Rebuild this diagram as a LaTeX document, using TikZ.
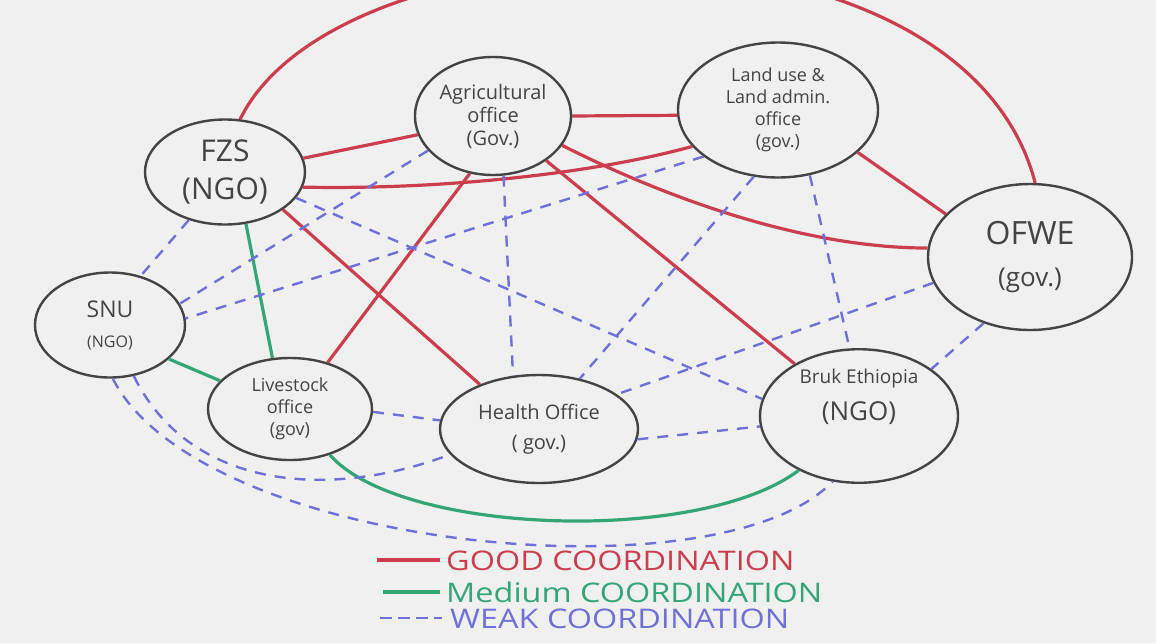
\documentclass[tikz,border=0pt]{standalone}
\usepackage{fontspec}
\setmainfont{Open Sans}
\newfontfamily\legendfont[FakeStretch=1.2]{Open Sans}
\usetikzlibrary{shapes.geometric}
\definecolor{paper}{RGB}{240,240,240}
\definecolor{ink}{RGB}{68,68,68}
\definecolor{goodred}{RGB}{204,62,78}
\definecolor{midgreen}{RGB}{52,166,118}
\definecolor{weakblue}{RGB}{112,112,218}
\newcommand{\fs}[2]{\fontsize{#1}{#2}\selectfont}

\begin{document}
\begin{tikzpicture}[x=1pt,y=-1pt,
  org/.style={ellipse,draw=ink,line width=2.4pt,inner sep=0pt,align=center,text=ink},
  good/.style={goodred,line width=3.2pt},
  medium/.style={midgreen,line width=3.2pt},
  weak/.style={weakblue,line width=2.4pt,dash pattern=on 11pt off 9pt},
  legend/.style={anchor=west,inner sep=0pt,text height=20pt,text depth=0pt,
    font=\legendfont\fs{27}{28}}]

\useasboundingbox[fill=paper] (0,0) rectangle (1156,643);
\clip (0,0) rectangle (1156,643);

% organisations
\node[org,minimum width=160pt,minimum height=105pt,font=\fs{30}{38}] (fzs) at (225,172) {FZS\\(NGO)};
\node[org,minimum width=156pt,minimum height=118pt,font=\fs{20}{23}] (agri) at (493,116) {Agricultural\\office\\(Gov.)};
\node[org,minimum width=200pt,minimum height=135pt,font=\fs{18}{22}] (land) at (778,110) {Land use \&\\Land admin.\\office\\(gov.)};
\node[org,minimum width=204pt,minimum height=146pt,font=\fs{26}{42}] (ofwe) at (1030,257) {{\fs{32}{42}OFWE}\\(gov.)};
\node[org,minimum width=150pt,minimum height=105pt,font=\fs{16}{30}] (snu) at (110,325) {{\fs{23}{30}SNU}\\(NGO)};
\node[org,minimum width=164pt,minimum height=102pt,font=\fs{18}{22}] (live) at (290,409) {Livestock\\office\\(gov)};
\node[org,minimum width=198pt,minimum height=108pt,font=\fs{20}{30}] (health) at (539,429) {Health Office\\( gov.)};
\node[org,minimum width=198pt,minimum height=122pt,font=\fs{26}{37}] (bruk) at (859,416) {{\fs{19}{37}Bruk Ethiopia}\\(NGO)\\[6pt]};

% good coordination
\draw[good] (fzs.74) .. controls (340,-85) and (960,-105) .. (ofwe.86);
\draw[good] (fzs.10) -- (agri.194);
\draw[good] (fzs.-11) .. controls (450,190) and (600,172) .. (land.-157);
\draw[good] (fzs.-33) -- (health.143);
\draw[good] (agri.0) -- (land.-177);
\draw[good] (agri.-23) .. controls (660,195) and (800,248) .. (ofwe.175);
\draw[good] (agri.-40) -- (bruk.141);
\draw[good] (agri.-112) -- (live.51);
\draw[good] (land.-28) -- (ofwe.153);

% medium coordination
\draw[medium] (fzs.-68) -- (live.109);
\draw[medium] (snu.-30) -- (live.158);
\draw[medium] (live.-49) .. controls (400,535) and (700,545) .. (bruk.-138);

% weak coordination
\draw[weak] (fzs.-127) -- (snu.58);
\draw[weak] (fzs.-20) -- (bruk.170);
\draw[weak] (agri.-152) -- (snu.17);
\draw[weak] (agri.-80) -- (health.116);
\draw[weak] (land.-148) -- (snu.5);
\draw[weak] (land.-110) -- (health.51);
\draw[weak] (land.-64) -- (bruk.98);
\draw[weak] (ofwe.-165) -- (health.24);
\draw[weak] (ofwe.-125) -- (bruk.33);
\draw[weak] (live.-2) -- (health.175);
\draw[weak] (health.-6) -- (bruk.-174);
\draw[weak] (snu.-65) .. controls (190,490) and (330,500) .. (health.-164);
\draw[weak] (snu.-87) .. controls (200,550) and (720,600) .. (bruk.-112);

% legend
\coordinate (kgood) at (377,560);
\coordinate (kmed) at (383,592);
\coordinate (kweak) at (380,618);
\node[legend,text=goodred] (tgood) at (446,560) {GOOD COORDINATION};
\node[legend,text=midgreen] (tmed) at (446,592) {Medium COORDINATION};
\node[legend,text=weakblue] (tweak) at (450,618) {WEAK COORDINATION};
\draw[good] (kgood) -- ([xshift=-6pt]tgood.west);
\draw[medium] (kmed) -- ([xshift=-6pt]tmed.west);
\draw[weak,dash pattern=on 12pt off 6pt] (kweak) -- ([xshift=-8pt]tweak.west);

\end{tikzpicture}
\end{document}
